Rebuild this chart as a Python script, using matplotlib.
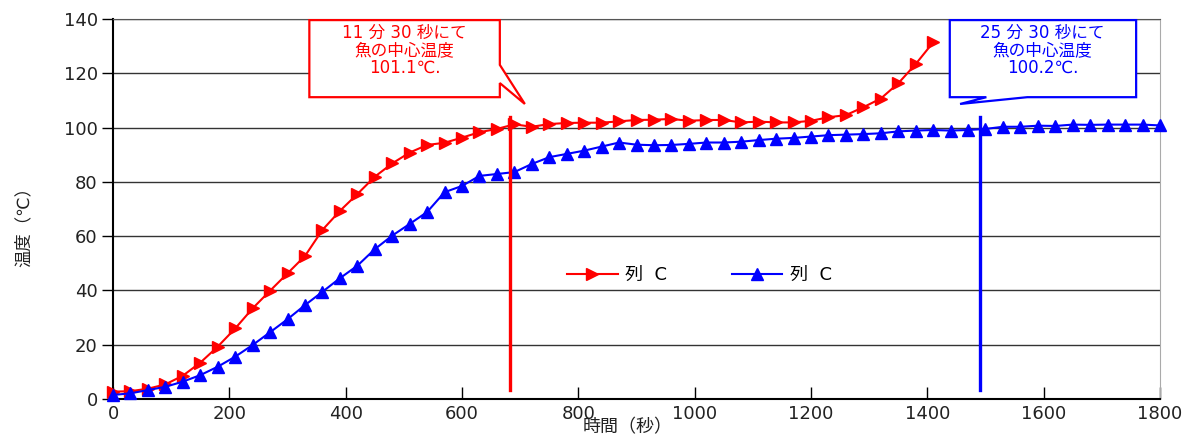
import numpy as np
import matplotlib
matplotlib.use('Agg')
from matplotlib import pyplot as plt
from matplotlib.patches import Polygon

# DejaVu for digits/latin, Noto CJK for the Japanese glyphs
plt.rcParams['font.family'] = ['DejaVu Sans', 'Noto Sans CJK JP']

# time (s) and temperature readings
time_red = np.arange(0, 1411, 30)
temp_red = [2.7, 2.9, 3.8, 5.4, 8.6, 13.4, 19.3, 26.0, 33.4, 39.9,
            46.3, 52.7, 62.3, 69.3, 75.5, 81.9, 86.8, 90.8, 93.6, 94.4,
            96.3, 98.3, 99.5, 101.2, 100.3, 101.3, 101.7, 101.8, 101.8, 102.3,
            102.8, 102.9, 103.2, 102.5, 102.8, 102.8, 101.9, 102.2, 101.9, 101.9,
            102.5, 103.8, 104.6, 107.5, 110.7, 116.3, 123.4, 131.4]

time_blue = np.arange(0, 1801, 30)
temp_blue = [1.5, 2.1, 3.3, 4.5, 6.4, 8.8, 11.9, 15.6, 19.9, 24.6,
             29.4, 34.6, 39.5, 44.5, 49.1, 55.2, 60.2, 64.5, 68.9, 76.2,
             78.5, 82.2, 82.9, 83.6, 86.6, 89.1, 90.3, 91.5, 93.0, 94.5,
             93.7, 93.5, 93.6, 94.0, 94.5, 94.5, 94.8, 95.4, 95.9, 96.2,
             96.7, 97.2, 97.4, 97.6, 97.9, 98.6, 98.9, 99.1, 98.9, 99.1,
             99.5, 100.3, 100.3, 100.7, 100.6, 101.1, 101.0, 101.1, 101.1, 101.1,
             100.8]

series_label = '列  C'
red_note = '11 分 30 秒にて\n魚の中心温度\n101.1℃.'
blue_note = '25 分 30 秒にて\n魚の中心温度\n100.2℃.'
red_mark_x = 683
blue_mark_x = 1490

fig = plt.figure(figsize=(11.95, 4.34), dpi=100)
ax = fig.add_axes([0.0946, 0.0806, 0.8761, 0.8756])

ax.set_xlim(0, 1800)
ax.set_ylim(0, 140)
ax.set_xticks(range(0, 1801, 200))
ax.set_yticks(range(0, 141, 20))
ax.yaxis.grid(True, color='#333333', linewidth=1)
ax.set_axisbelow(True)

ax.plot(time_red, temp_red, color='#ff0000', marker='>', markersize=8,
        linewidth=1.5, label=series_label, clip_on=False, zorder=3)
ax.plot(time_blue, temp_blue, color='#0000ff', marker='^', markersize=8,
        linewidth=1.5, label=series_label, clip_on=False, zorder=3)

# vertical markers
ax.plot([red_mark_x, red_mark_x], [3.3, 104], color='#ff0000', linewidth=2.4, zorder=4)
ax.plot([blue_mark_x, blue_mark_x], [3.3, 104], color='#0000ff', linewidth=2.4, zorder=4)

# callouts
red_box = [(337.5, 139.6), (665, 139.6), (665, 123.1), (708, 108.7),
           (665, 116.4), (665, 111.2), (337.5, 111.2)]
ax.add_patch(Polygon(red_box, closed=True, facecolor='white', edgecolor='#ff0000',
                     linewidth=1.6, zorder=5, clip_on=False))
ax.text(501, 128.4, red_note, color='#ff0000', fontsize=12, ha='center', va='center',
        linespacing=0.95, zorder=6)

blue_box = [(1438.6, 139.6), (1759, 139.6), (1759, 111.2), (1571.8, 111.2),
            (1456.3, 108.7), (1501.5, 111.2), (1438.6, 111.2)]
ax.add_patch(Polygon(blue_box, closed=True, facecolor='white', edgecolor='#0000ff',
                     linewidth=1.6, zorder=5, clip_on=False))
ax.text(1598, 128.4, blue_note, color='#0000ff', fontsize=12, ha='center', va='center',
        linespacing=0.95, zorder=6)

# spines and ticks
for side in ['left', 'bottom']:
    ax.spines[side].set_color('black')
    ax.spines[side].set_linewidth(1.5)
ax.spines['top'].set_color('#555555')
ax.spines['right'].set_color('#aaaaaa')
ax.tick_params(axis='x', direction='in', length=9, width=1, colors='black',
               labelsize=13, pad=4)
ax.tick_params(axis='y', direction='out', length=8, width=1, colors='black',
               labelsize=13, pad=3)
for lbl in ax.get_xticklabels() + ax.get_yticklabels():
    lbl.set_color('#222222')

fig.text(0.02, 0.488, '温度（℃）', rotation=90, ha='center', va='center', fontsize=12.5,
         color='#222222')
fig.text(0.525, 0.016, '時間（秒）', ha='center', va='center', fontsize=13,
         color='#222222')

ax.legend(loc='center', bbox_to_anchor=(0.56, 0.326), ncol=2, frameon=False,
          fontsize=13, handlelength=2.8, columnspacing=3.6, handletextpad=0.4)

fig.savefig('out.png', dpi=100)
